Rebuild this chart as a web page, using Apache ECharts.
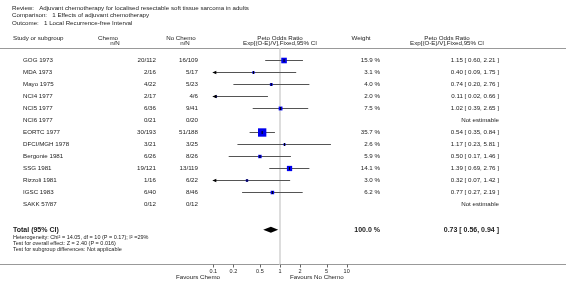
<!DOCTYPE html>
<html>
<head>
<meta charset="utf-8">
<script src="https://cdn.jsdelivr.net/npm/echarts@6/dist/echarts.min.js"></script>
<style>
html, body { margin: 0; padding: 0; background: #fff; }
#chart { width: 566px; height: 289px; }
</style>
</head>
<body>
<div id="chart"></div>
<script>
// study rows, top to bottom
const studies = ['GOG 1973', 'MDA 1973', 'Mayo 1975', 'NCI4 1977', 'NCI5 1977', 'NCI6 1977', 'EORTC 1977',
    'DFCI/MGH 1978', 'Bergonie 1981', 'SSG 1981', 'Rizzoli 1981', 'IGSC 1983', 'SAKK 57/87'];
const chemoNN = ['20/112', '2/16', '4/22', '2/17', '6/36', '0/21', '30/193', '3/21', '6/26', '19/121', '1/16', '6/40', '0/12'];
const noChemoNN = ['16/109', '5/17', '5/23', '4/6', '9/41', '0/20', '51/188', '3/25', '8/26', '13/119', '6/22', '8/46', '0/12'];
const weights = [15.9, 3.1, 4.0, 2.0, 7.5, null, 35.7, 2.6, 5.9, 14.1, 3.0, 6.2, null];
const oddsRatio = [1.15, 0.40, 0.74, 0.11, 1.02, null, 0.54, 1.17, 0.50, 1.39, 0.32, 0.77, null];
const ciLow = [0.60, 0.09, 0.20, 0.02, 0.39, null, 0.35, 0.23, 0.17, 0.69, 0.07, 0.27, null];
const ciHigh = [2.21, 1.75, 2.76, 0.66, 2.65, null, 0.84, 5.81, 1.46, 2.76, 1.42, 2.19, null];

const totalLabel = 'Total (95% CI)';
const totalWeight = 100.0;
const totalOR = 0.73;
const totalLow = 0.56;
const totalHigh = 0.94;

const tickValues = [0.1, 0.2, 0.5, 1, 2, 5, 10];
const footLines = [
    'Heterogeneity: Chi\u00b2 = 14.05, df = 10 (P = 0.17); I\u00b2 =29%',
    'Test for overall effect: Z = 2.40 (P = 0.016)',
    'Test for subgroup differences: Not applicable'
];
const titleLines = [
    'Review:   Adjuvant chemotherapy for localised resectable soft tissue sarcoma in adults',
    'Comparison:   1 Effects of adjuvant chemotherapy',
    'Outcome:   1 Local Recurrence-free Interval'
];

const FONT = 'Liberation Sans';
const TXT = '#222';
const totalRow = 14.1;
const axisRow = 17;
const xMin = 0.1, xMax = 10;

function fmt2(v) { return v.toFixed(2); }

function txt(x, y, text, opt) {
    opt = opt || {};
    return {
        type: 'text', x: x, y: y, silent: true,
        style: {
            text: text, fill: TXT, fontFamily: FONT,
            fontSize: opt.size || 6.2, fontWeight: opt.bold ? 'bold' : 'normal',
            align: opt.align || 'left', verticalAlign: 'middle'
        }
    };
}

function renderStudy(params, api) {
    const or = api.value(0), lo = api.value(1), hi = api.value(2), w = api.value(3), row = api.value(4);
    const y = api.coord([1, row])[1];
    const xl = api.coord([Math.max(lo, xMin), row])[0];
    const xr = api.coord([Math.min(hi, xMax), row])[0];
    const xc = api.coord([or, row])[0];
    const s = 1.4 * Math.sqrt(w);
    const children = [
        { type: 'line', shape: { x1: xl, y1: y, x2: xr, y2: y }, style: { stroke: '#555', lineWidth: 1 } },
        { type: 'rect', shape: { x: xc - s / 2, y: y - s / 2, width: s, height: s }, style: { fill: '#0000ee' } },
        { type: 'line', shape: { x1: xc, y1: y - 1.5, x2: xc, y2: y + 1.5 }, style: { stroke: '#000', lineWidth: 1 } }
    ];
    if (lo < xMin) {
        children.push({ type: 'polygon', shape: { points: [[xl - 1, y], [xl + 3, y - 1.8], [xl + 3, y + 1.8]] }, style: { fill: '#000' } });
    }
    if (hi > xMax) {
        children.push({ type: 'polygon', shape: { points: [[xr + 1, y], [xr - 3, y - 1.8], [xr - 3, y + 1.8]] }, style: { fill: '#000' } });
    }
    return { type: 'group', children: children };
}

function renderDiamond(params, api) {
    const row = api.value(3);
    const c = api.coord([api.value(0), row]);
    const l = api.coord([api.value(1), row]);
    const r = api.coord([api.value(2), row]);
    return {
        type: 'polygon',
        shape: { points: [[l[0], c[1]], [c[0], c[1] - 3], [r[0], c[1]], [c[0], c[1] + 3]] },
        style: { fill: '#000' }
    };
}

function renderTick(params, api) {
    const p = api.coord([api.value(0), api.value(1)]);
    const x = Math.round(p[0]) + 0.5;
    return { type: 'line', shape: { x1: x, y1: p[1], x2: x, y2: p[1] + 3 }, style: { stroke: '#666', lineWidth: 1 } };
}

function renderText(params, api) {
    const i = params.dataIndex;
    const y = api.coord([0, api.value(1)])[1];
    const at = x => api.coord([x, 0])[0];
    if (i === studies.length) {
        return {
            type: 'group', children: [
                txt(at(13), y, totalLabel, { bold: true, size: 7 }),
                txt(at(380), y, totalWeight.toFixed(1) + ' %', { bold: true, size: 7, align: 'right' }),
                txt(at(499), y, fmt2(totalOR) + ' [ ' + fmt2(totalLow) + ', ' + fmt2(totalHigh) + ' ]', { bold: true, size: 7, align: 'right' })
            ]
        };
    }
    const kids = [
        txt(at(23), y, studies[i]),
        txt(at(156), y, chemoNN[i], { align: 'right' }),
        txt(at(198), y, noChemoNN[i], { align: 'right' })
    ];
    if (weights[i] == null) {
        kids.push(txt(at(499), y, 'Not estimable', { align: 'right' }));
    } else {
        kids.push(txt(at(380), y, weights[i].toFixed(1) + ' %', { align: 'right' }));
        kids.push(txt(at(499), y, fmt2(oddsRatio[i]) + ' [ ' + fmt2(ciLow[i]) + ', ' + fmt2(ciHigh[i]) + ' ]', { align: 'right' }));
    }
    return { type: 'group', children: kids };
}

const studyData = [];
studies.forEach((s, i) => {
    if (oddsRatio[i] != null) studyData.push([oddsRatio[i], ciLow[i], ciHigh[i], weights[i], i]);
});
const textData = studies.map((s, i) => [0, i]);
textData.push([0, totalRow]);

const graphics = [
    { type: 'line', silent: true, shape: { x1: 0, y1: 48.5, x2: 566, y2: 48.5 }, style: { stroke: '#999', lineWidth: 1.2 } },
    { type: 'line', silent: true, shape: { x1: 0, y1: 264.5, x2: 566, y2: 264.5 }, style: { stroke: '#999', lineWidth: 1.2 } },
    txt(13, 38, 'Study or subgroup'),
    txt(108, 38, 'Chemo', { align: 'center' }),
    txt(115, 43, 'n/N', { align: 'center' }),
    txt(181, 38, 'No Chemo', { align: 'center' }),
    txt(185, 43, 'n/N', { align: 'center' }),
    txt(280, 38, 'Peto Odds Ratio', { align: 'center' }),
    txt(280, 43, 'Exp[(O-E)/V],Fixed,95% CI', { align: 'center' }),
    txt(361, 38, 'Weight', { align: 'center' }),
    txt(447, 38, 'Peto Odds Ratio', { align: 'center' }),
    txt(447, 43, 'Exp[(O-E)/V],Fixed,95% CI', { align: 'center' }),
    txt(220, 277, 'Favours Chemo', { align: 'right' }),
    txt(290, 277, 'Favours No Chemo')
];
titleLines.forEach((t, k) => graphics.push(txt(12, 8 + k * 7.5, t)));
footLines.forEach((t, k) => graphics.push(txt(13, 237 + k * 6, t, { size: 5.5 })));

const chart = echarts.init(document.getElementById('chart'), null, { renderer: 'canvas' });
chart.setOption({
    animation: false,
    backgroundColor: '#fff',
    grid: [
        { left: 213.33, width: 133.33, top: 48.5, height: 216 },
        { left: 0, width: 566, top: 48.5, height: 216 }
    ],
    xAxis: [
        {
            type: 'log', logBase: 10, min: xMin, max: xMax, gridIndex: 0,
            axisLine: { show: false },
            splitLine: { show: false },
            axisTick: { show: false },
            axisLabel: {
                customValues: tickValues, fontSize: 5.5, fontFamily: FONT, color: TXT, margin: 4,
                formatter: v => String(+(+v).toPrecision(2))
            }
        },
        { type: 'value', min: 0, max: 566, gridIndex: 1, show: false }
    ],
    yAxis: [
        { type: 'value', min: -1, max: 17, inverse: true, gridIndex: 0, show: false },
        { type: 'value', min: -1, max: 17, inverse: true, gridIndex: 1, show: false }
    ],
    graphic: graphics,
    series: [
        {
            type: 'line', xAxisIndex: 0, yAxisIndex: 0, silent: true, symbol: 'none',
            data: [[1, -1], [1, 17]],
            lineStyle: { color: '#ddd', width: 2 }, z: 1
        },
        {
            type: 'custom', xAxisIndex: 0, yAxisIndex: 0, silent: true,
            renderItem: renderTick, data: tickValues.map(v => [v, axisRow]), z: 2
        },
        {
            type: 'custom', xAxisIndex: 0, yAxisIndex: 0, silent: true,
            renderItem: renderStudy, data: studyData, z: 3
        },
        {
            type: 'custom', xAxisIndex: 0, yAxisIndex: 0, silent: true,
            renderItem: renderDiamond, data: [[totalOR, totalLow, totalHigh, totalRow]], z: 3
        },
        {
            type: 'custom', xAxisIndex: 1, yAxisIndex: 1, silent: true,
            renderItem: renderText, data: textData, z: 4
        }
    ]
});
</script>
</body>
</html>
